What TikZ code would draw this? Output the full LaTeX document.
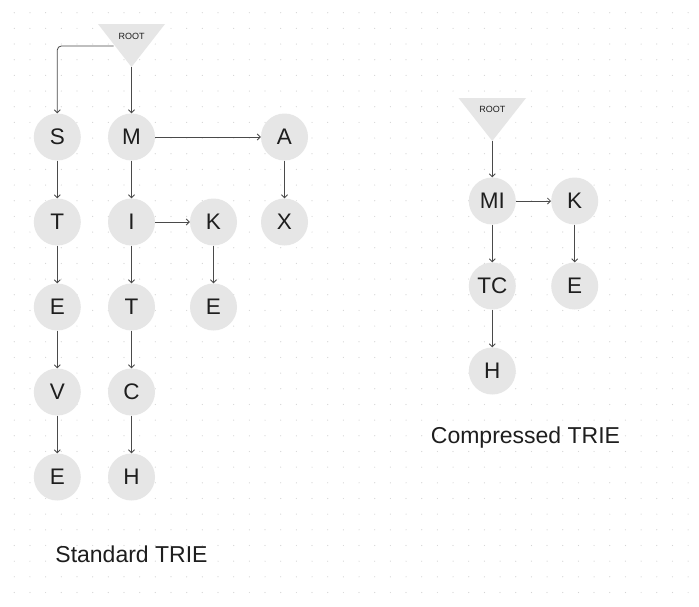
\documentclass[tikz,border=0pt]{standalone}
\usepackage{fontspec}
\setmainfont{Liberation Sans}
\usetikzlibrary{arrows.meta}
\definecolor{nodegray}{HTML}{E6E6E6}
\definecolor{linegray}{HTML}{4A4A4A}
\definecolor{dotgray}{HTML}{D4D4D4}
\definecolor{textdark}{HTML}{1E1E1E}

\begin{document}
\begin{tikzpicture}[x=1pt,y=-1pt]
			\tikzset{letter/.style={circle,fill=nodegray,minimum size=47pt,inner sep=0pt,text=textdark,font=\fontsize{22.5}{22.5}\selectfont}}
			\tikzset{rootlabel/.style={text=textdark,font=\fontsize{9}{9}\selectfont}}
			\tikzset{caption/.style={text=textdark,font=\fontsize{23}{23}\selectfont}}
			\tikzset{edge/.style={draw=linegray,line width=0.8pt,-{Straight Barb[length=3pt,width=6pt]}}}
			\useasboundingbox (0,0) rectangle (699,606);
			\fill[white] (0,0) rectangle (699,606);
			% dotted background
			\foreach \i in {0,...,43}
				\foreach \j in {0,...,37}
					\fill[dotgray] (14.3+15.67*\i,12.7+15.67*\j) circle (0.6);
			% standard trie
			\fill[nodegray] (98,24) -- (165,24) -- (131.5,67) -- cycle;
			\coordinate (rootA) at (131.5,67);
			\coordinate (rootAside) at (113.5,46);
			\node[rootlabel] (rootAtext) at (131.5,36) {ROOT};
			\node[letter] (s1) at (57.3,137) {S};
			\node[letter] (t1) at (57.3,222) {T};
			\node[letter] (e1) at (57.3,307) {E};
			\node[letter] (v1) at (57.3,392) {V};
			\node[letter] (e2) at (57.3,477) {E};
			\node[letter] (m1) at (131.5,137) {M};
			\node[letter] (i1) at (131.5,222) {I};
			\node[letter] (t2) at (131.5,307) {T};
			\node[letter] (c1) at (131.5,392) {C};
			\node[letter] (h1) at (131.5,477) {H};
			\node[letter] (k1) at (213.5,222) {K};
			\node[letter] (e3) at (213.5,307) {E};
			\node[letter] (a1) at (284.5,137) {A};
			\node[letter] (x1) at (284.5,222) {X};
			\draw[edge,rounded corners=4pt] (rootAside) -| (s1.north);
			\draw[edge] (rootA) -- (m1.north);
			\draw[edge] (s1) -- (t1);
			\draw[edge] (t1) -- (e1);
			\draw[edge] (e1) -- (v1);
			\draw[edge] (v1) -- (e2);
			\draw[edge] (m1) -- (i1);
			\draw[edge] (i1) -- (t2);
			\draw[edge] (t2) -- (c1);
			\draw[edge] (c1) -- (h1);
			\draw[edge] (i1) -- (k1);
			\draw[edge] (k1) -- (e3);
			\draw[edge] (m1) -- (a1);
			\draw[edge] (a1) -- (x1);
			\node[caption] (stdcap) at (131.5,554) {Standard TRIE};
			% compressed trie
			\fill[nodegray] (458.5,98) -- (526,98) -- (492.3,141) -- cycle;
			\coordinate (rootB) at (492.3,141);
			\node[rootlabel] (rootBtext) at (492.3,109) {ROOT};
			\node[letter] (mi) at (492.3,201) {MI};
			\node[letter] (tc) at (492.3,286) {TC};
			\node[letter] (h2) at (492.3,371) {H};
			\node[letter] (k2) at (574.7,201) {K};
			\node[letter] (e4) at (574.7,286) {E};
			\draw[edge] (rootB) -- (mi.north);
			\draw[edge] (mi) -- (k2);
			\draw[edge] (mi) -- (tc);
			\draw[edge] (tc) -- (h2);
			\draw[edge] (k2) -- (e4);
			\node[caption] (cmpcap) at (525.5,437.5) {Compressed TRIE};
		\end{tikzpicture}
\end{document}
